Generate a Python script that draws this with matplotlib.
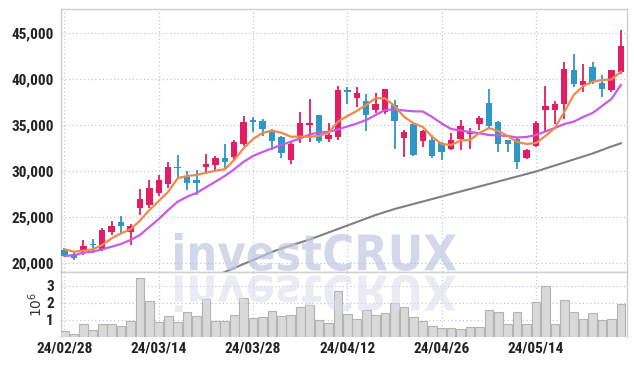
import matplotlib
matplotlib.use("Agg")
import matplotlib.pyplot as plt
import numpy as np
from matplotlib.textpath import TextPath
from matplotlib.patches import PathPatch
from matplotlib.font_manager import FontProperties
from matplotlib.transforms import Affine2D

# daily candles, 2024-02-28 .. 2024-05-28 (trading days)
opens = [21413, 20978, 21413, 22050, 21413, 23402, 24489, 23402, 26011, 26381,
         27642, 28587, 30400, 29380, 29022, 30468, 30685, 31413, 31555, 33011,
         35460, 35435, 34533, 33696, 31196, 33663, 35033, 36088, 33478, 33772,
         38720, 37968, 37609, 36631, 36490, 37175, 33620, 35109, 33294, 33370,
         33076, 32468, 33551, 34055, 35185, 37425, 35327, 33370, 33551, 31446,
         32794, 36707, 36631, 37283, 40979, 39349, 41305, 39599, 38881, 40794]
highs = [21663, 21228, 22576, 22685, 23880, 24565, 25109, 24315, 28120, 29098,
         29565, 30979, 31816, 30033, 30109, 31924, 31707, 33011, 33446, 36055,
         35903, 35729, 34642, 33805, 33185, 36490, 37903, 36150, 35294, 39240,
         39164, 39164, 38370, 38511, 38990, 37794, 34457, 35185, 34457, 33913,
         33185, 34207, 35620, 34751, 35979, 38990, 35468, 33450, 33729, 32468,
         35468, 39240, 37642, 41925, 42794, 41707, 41882, 40512, 40979, 45327]
lows = [20761, 20402, 20902, 21120, 21337, 23044, 23228, 21957, 25294, 26011,
        27283, 28229, 29315, 27935, 27468, 29674, 30033, 30185, 31196, 32718,
        34272, 33805, 32283, 31490, 30837, 33076, 33185, 33076, 33185, 33370,
        37359, 36990, 34381, 36338, 36196, 32468, 31555, 31631, 32642, 31490,
        31272, 32283, 32283, 32468, 34457, 34751, 32098, 32098, 30294, 31381,
        32642, 34272, 35185, 35729, 39164, 38620, 39534, 38077, 38620, 40544]
closes = [20837, 20620, 21848, 22000, 23587, 24022, 24054, 24022, 26957, 28229,
          29098, 30468, 30340, 28728, 28728, 30761, 31413, 30979, 33153, 35327,
          35400, 34566, 33294, 31990, 32935, 35251, 35251, 33294, 33913, 38805,
          38670, 38555, 36088, 37283, 38914, 35468, 34240, 31740, 34348, 31631,
          32098, 33446, 34892, 34272, 35838, 34892, 33011, 33011, 31012, 32283,
          35251, 37066, 37283, 41088, 39457, 39816, 39675, 38947, 40979, 43588]
volumes = [0.33, 0.18, 0.76, 0.41, 0.76, 0.76, 0.66, 0.96, 3.47, 2.12,
           0.86, 1.25, 0.86, 1.47, 1.25, 2.24, 0.94, 0.94, 1.31, 2.29,
           1.12, 1.18, 1.53, 1.25, 1.29, 1.76, 1.88, 0.98, 0.82, 2.70,
           1.35, 1.08, 1.59, 1.29, 1.41, 2.00, 1.76, 1.18, 0.96, 0.66,
           0.53, 0.53, 0.47, 0.59, 0.59, 1.59, 1.47, 0.76, 1.47, 0.76,
           2.06, 3.02, 0.76, 2.18, 1.47, 1.06, 1.41, 1.00, 1.06, 1.96]

ma_short = [21522, 21261, 21370, 21522, 21989, 22718, 23261, 23696, 24631, 25794,
            26772, 27783, 29240, 29490, 29598, 29848, 30066, 30218, 31229, 32500,
            33511, 34164, 34414, 34196, 33761, 33761, 33761, 33837, 34196, 35392,
            36011, 36555, 37207, 37968, 37914, 37098, 35935, 35218, 34816, 33729,
            32968, 32859, 33348, 33403, 34164, 34707, 34381, 33837, 33185, 32968,
            33075, 33837, 34707, 36450, 38294, 39273, 39740, 39925, 39980, 40827]
ma_mid = [20793, 20870, 21152, 21261, 21522, 21804, 22098, 22533, 23076, 23946,
          24815, 25794, 26696, 27239, 27642, 28261, 28870, 29490, 30218, 31044,
          31664, 32098, 32479, 32859, 33218, 33566, 34001, 34218, 34305, 34544,
          34870, 35196, 35577, 36120, 36664, 36740, 36609, 36522, 36501, 35903,
          35196, 34598, 34435, 34272, 34131, 33946, 33892, 33837, 33674, 33729,
          33946, 34327, 34707, 35142, 35392, 35903, 36338, 37098, 37859, 39381]
ma_long = [np.nan] * 16 + [
           18600, 19054, 19489, 19924, 20359, 20793, 21228, 21609, 21935, 22261,
           22587, 22967, 23348, 23728, 24109, 24489, 24870, 25250, 25576, 25902,
           26174, 26446, 26717, 26989, 27261, 27533, 27805, 28076, 28348, 28620,
           28892, 29163, 29435, 29707, 29979, 30305, 30631, 30957, 31283, 31609,
           31935, 32316, 32696, 33044]

tick_pos = [0, 10, 20, 30, 40, 50]
tick_labels = ["24/02/28", "24/03/14", "24/03/28", "24/04/12", "24/04/26", "24/05/14"]
price_ticks = [20000, 25000, 30000, 35000, 40000, 45000]
vol_ticks = [1, 2, 3]

UP = "#e31c64"
DOWN = "#2f96c8"
GRID = "#c6c8de"
SPINE = "#cfcfcf"
TICKFONT = ["Roboto Condensed", "Liberation Sans"]

W, H = 634, 366
fig = plt.figure(figsize=(W / 100, H / 100), dpi=100)
ax = fig.add_axes([61 / W, (H - 272) / H, 566 / W, 263 / H])
axv = fig.add_axes([61 / W, (H - 337) / H, 566 / W, 65 / H], sharex=ax)

x = np.arange(len(opens))
o = np.array(opens, float)
c = np.array(closes, float)
colors = [UP if cc >= oo else DOWN for oo, cc in zip(o, c)]
body_lo = np.minimum(o, c)
body_h = np.maximum(np.abs(c - o), 140)

ax.vlines(x, lows, highs, colors=colors, linewidth=1.3, zorder=3)
ax.bar(x, body_h, bottom=body_lo, width=0.68, color=colors, zorder=4)
ax.plot(x, ma_long, color="#808080", lw=1.5, zorder=5)
ax.plot(x, ma_mid, color="#c95ae8", lw=1.6, zorder=5)
ax.plot(x, ma_short, color="#ee8a4c", lw=1.6, zorder=6)

ax.set_ylim(19054, 47640)
ax.set_xlim(-0.37, 59.65)
ax.set_yticks(price_ticks)
ax.set_yticklabels([f"{t:,}" for t in price_ticks])

axv.bar(x, volumes, width=0.92, color="#d9d9d9", edgecolor="#b4b4b4", linewidth=0.8, zorder=3)
axv.set_ylim(0, 3.82)
axv.set_yticks(vol_ticks)
axv.set_yticklabels([str(v) for v in vol_ticks])
axv.set_ylabel(r"$10^6$", fontsize=10, color="#333333", labelpad=1)
axv.set_xticks(tick_pos)
axv.set_xticklabels(tick_labels)

for a in (ax, axv):
    a.grid(True, color=GRID, linestyle=(0, (1, 2)), linewidth=0.9, zorder=0)
    a.set_axisbelow(True)
    for s in a.spines.values():
        s.set_color(SPINE)
        s.set_linewidth(1.0)
    a.tick_params(length=0, colors="#222222", labelsize=11, pad=5)
    for lab in a.get_xticklabels() + a.get_yticklabels():
        lab.set_family(TICKFONT)
        lab.set_fontweight("bold")
ax.tick_params(labelbottom=False)
axv.tick_params(axis="x", pad=3)
axv.spines["bottom"].set_visible(False)


def watermark(box, flip, color, alpha):
    tp = TextPath((0, 0), "investCRUX", size=100,
                  prop=FontProperties(family="DejaVu Sans", weight="bold"))
    e = tp.get_extents()
    x0, yt, x1, yb = box
    sx = (x1 - x0) / e.width
    sy = (yb - yt) / e.height
    if flip:
        tr = Affine2D().translate(-e.x0, -e.y0).scale(sx, -sy).translate(x0, H - yt)
    else:
        tr = Affine2D().translate(-e.x0, -e.y0).scale(sx, sy).translate(x0, H - yb)
    fig.add_artist(PathPatch(tp, transform=tr, facecolor=color, edgecolor="none",
                             alpha=alpha, zorder=10))


watermark((175, 233, 456, 271), False, "#bfc6e2", 0.7)
watermark((175, 275, 456, 312), True, "#dcdcea", 0.55)

fig.savefig("out.png", dpi=100)
